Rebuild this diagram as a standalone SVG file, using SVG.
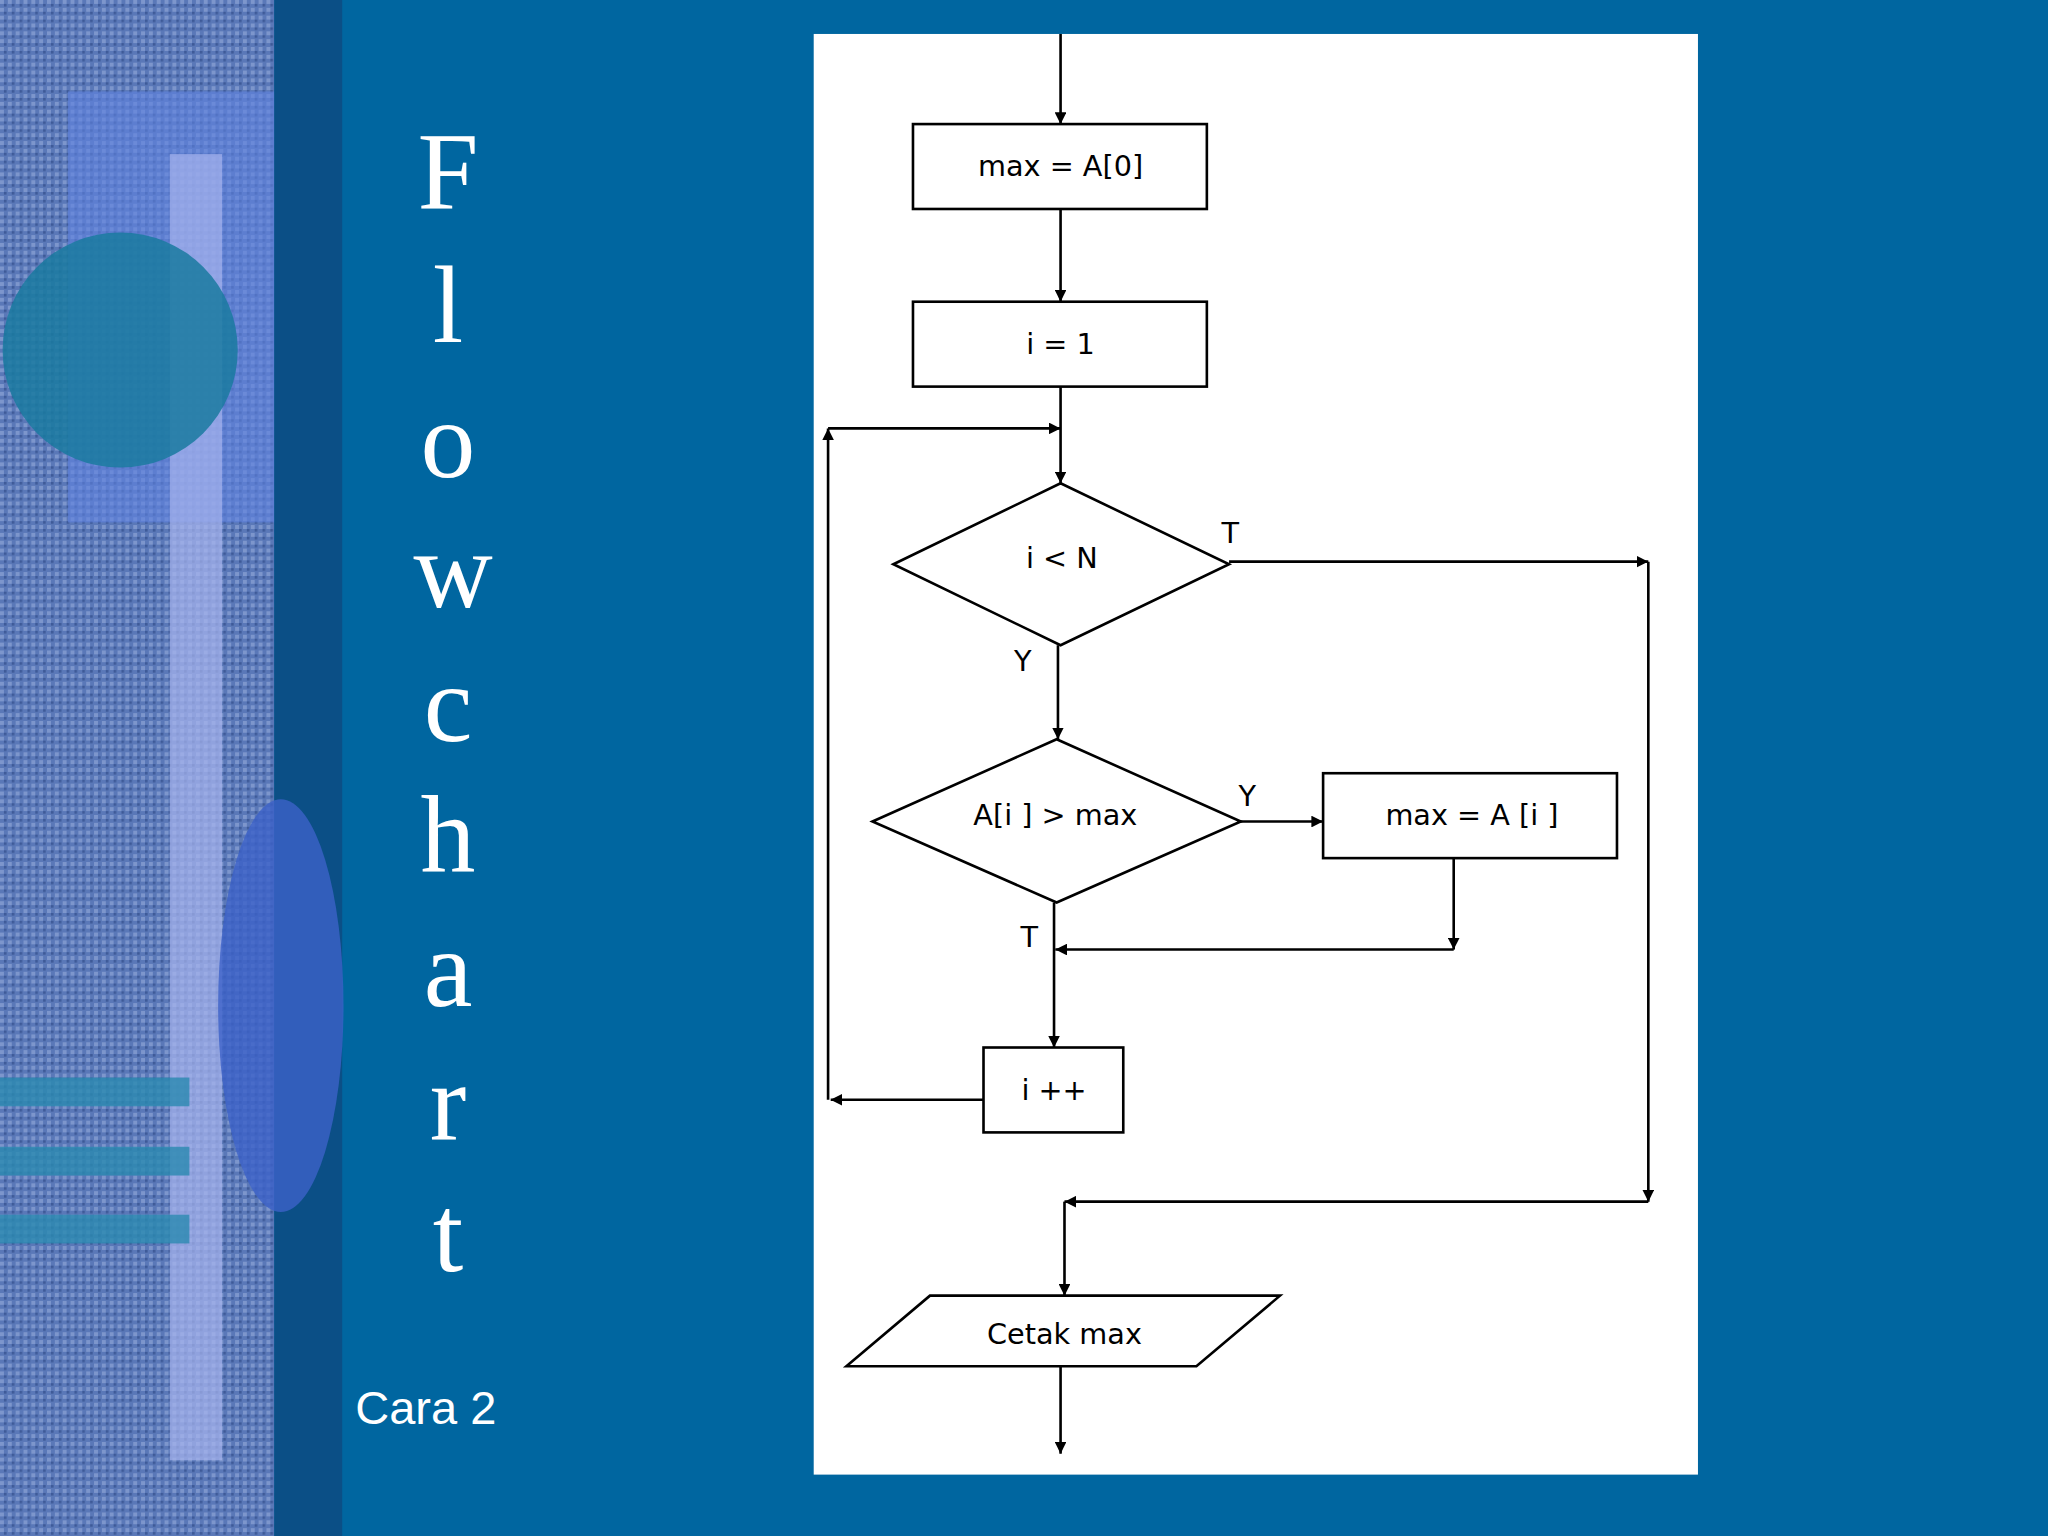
<svg xmlns="http://www.w3.org/2000/svg" width="2048" height="1536" viewBox="0 0 2048 1536">
<defs>
<style>
.b{fill:#fff;stroke:#000;stroke-width:2}
.l{fill:none;stroke:#000;stroke-width:2}
.t{font-family:"DejaVu Sans",sans-serif;font-size:22px;fill:#000;text-anchor:middle}
.fl{font-family:"Liberation Serif",serif;font-size:84px;fill:#fff;text-anchor:middle}
</style>
<marker id="a" viewBox="0 0 10 10" refX="10" refY="5" markerWidth="9" markerHeight="9" markerUnits="userSpaceOnUse" orient="auto"><path d="M0,0L10,5L0,10z" fill="#000"/></marker>
<pattern id="tx" width="6" height="6" patternUnits="userSpaceOnUse"><rect width="6" height="6" fill="#5a78b8"/><rect width="3" height="3" fill="#7d96cc"/><rect x="3" y="3" width="2" height="2" fill="#3e5a98"/></pattern>
</defs>
<g transform="scale(1.30612)">
<rect width="1568" height="1176" fill="#0066a0"/>
<rect width="210" height="1176" fill="url(#tx)"/>
<rect x="52" y="70" width="158" height="330" fill="#5f82e0" opacity="0.6"/>
<rect x="130" y="118" width="40" height="1000" fill="#a6b4ee" opacity="0.7"/>
<circle cx="92" cy="268" r="90" fill="#1a7aa0" opacity="0.85"/>
<rect x="0" y="825" width="145" height="22" fill="#2a8ab0" opacity="0.8"/>
<rect x="0" y="878" width="145" height="22" fill="#2a8ab0" opacity="0.8"/>
<rect x="0" y="930" width="145" height="22" fill="#2a8ab0" opacity="0.8"/>
<rect x="210" y="0" width="52" height="1176" fill="#0b4f86"/>
<ellipse cx="215" cy="770" rx="48" ry="158" fill="#3c62c8" opacity="0.8"/>
<g id="title">
<text class="fl" x="343" y="160">F</text><text class="fl" x="343" y="262">l</text><text class="fl" x="343" y="365">o</text><text class="fl" x="347" y="465">w</text><text class="fl" x="343" y="567">c</text><text class="fl" x="343" y="668">h</text><text class="fl" x="343" y="770">a</text><text class="fl" x="343" y="872">r</text><text class="fl" x="343" y="973">t</text>
<text x="272" y="1090" font-family="Liberation Sans,sans-serif" font-size="36" fill="#fff">Cara 2</text>
</g>
<rect x="623" y="26" width="677" height="1103" fill="#fff"/>
<g id="connectors">
<path class="l" d="M812,26V95" marker-end="url(#a)"/>
<path class="l" d="M812,160V231" marker-end="url(#a)"/>
<path class="l" d="M812,296V370" marker-end="url(#a)"/>
<path class="l" d="M941,430H1262" marker-end="url(#a)"/>
<path class="l" d="M1262,430V920" marker-end="url(#a)"/>
<path class="l" d="M810,494V566" marker-end="url(#a)"/>
<path class="l" d="M950,629H1013" marker-end="url(#a)"/>
<path class="l" d="M1113,657V727" marker-end="url(#a)"/>
<path class="l" d="M1113,727H808" marker-end="url(#a)"/>
<path class="l" d="M807,691V802" marker-end="url(#a)"/>
<path class="l" d="M753,842H636" marker-end="url(#a)"/>
<path class="l" d="M634,842V328" marker-end="url(#a)"/>
<path class="l" d="M634,328H812" marker-end="url(#a)"/>
<path class="l" d="M1262,920H815" marker-end="url(#a)"/>
<path class="l" d="M815,920V992" marker-end="url(#a)"/>
<path class="l" d="M812,1046V1113" marker-end="url(#a)"/>
<text class="t" x="942" y="416">T</text>
<text class="t" x="783" y="514">Y</text>
<text class="t" x="955" y="617">Y</text>
<text class="t" x="788" y="725">T</text>
</g>
<g id="n1"><rect class="b" x="699" y="95" width="225" height="65"/><text class="t" x="812" y="135">max = A[0]</text></g>
<g id="n2"><rect class="b" x="699" y="231" width="225" height="65"/><text class="t" x="812" y="271">i = 1</text></g>
<g id="n3"><path class="b" d="M684,432L812,370L941,432L812,494Z"/><text class="t" x="813" y="435">i &lt; N</text></g>
<g id="n4"><path class="b" d="M668,629L809,566L950,629L809,691Z"/><text class="t" x="808" y="632">A[i ] &gt; max</text></g>
<g id="n5"><rect class="b" x="1013" y="592" width="225" height="65"/><text class="t" x="1127" y="632">max = A [i ]</text></g>
<g id="n6"><rect class="b" x="753" y="802" width="107" height="65"/><text class="t" x="807" y="842">i ++</text></g>
<g id="n7"><path class="b" d="M648,1046L712,992H980L916,1046Z"/><text class="t" x="815" y="1029">Cetak max</text></g>
</g>
</svg>
